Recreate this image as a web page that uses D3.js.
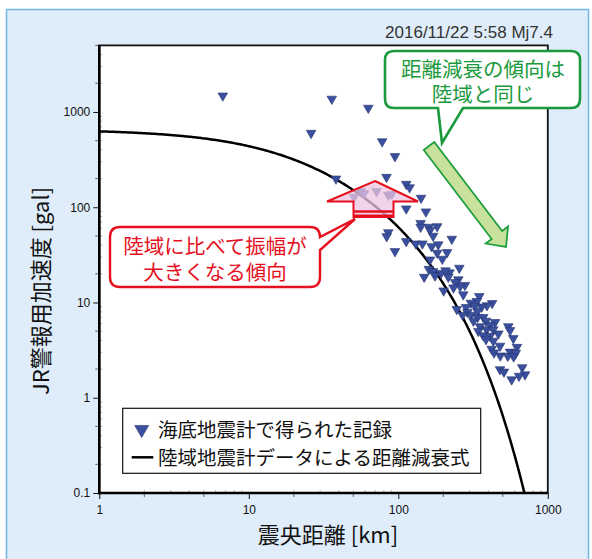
<!DOCTYPE html>
<html>
<head>
<meta charset="utf-8">
<script src="https://cdn.jsdelivr.net/npm/d3@7"></script>
<style>
  body { margin: 0; background: #ffffff; }
  text { font-family: "Noto Sans CJK JP", "Noto Sans", sans-serif; }
  .num { font-family: "Liberation Sans", Arial, sans-serif; }
  .note { font-family: "Liberation Sans", "Noto Sans CJK JP", sans-serif; }
</style>
</head>
<body>
<svg id="chart" width="592" height="559"></svg>
<script>
// Ocean-bottom seismometer records: epicentral distance [km] and JR alarm acceleration [gal]
const seaDistKm = [
  6.7, 35.9, 63, 26.1, 78, 95, 38.3, 83.4, 113, 119,
  50.5, 56.3, 59, 71.5, 85.7, 90.3,
  142, 113, 153, 141, 141, 160, 182, 163, 171, 228,
  85.7, 83.6, 113, 131, 145, 167, 185, 95, 182, 212,
  197, 163, 256, 160, 171, 193, 220, 207, 149, 176,
  216, 252, 240, 279, 259, 234, 201, 272, 348, 335,
  306, 424, 392, 361, 326, 284, 246, 290, 339, 306,
  269, 339, 370, 318, 386, 444, 411, 352, 390, 432,
  544, 559, 343, 467, 370, 411, 588, 432, 386, 622,
  479, 421, 437, 481, 559, 611, 540, 591, 479, 509,
  674, 704, 642, 573
];
const seaAccGal = [
  1480, 1370, 1100, 600, 490, 342, 199, 207, 175, 161,
  128, 147, 139, 147, 134, 137,
  125, 96.6, 89.8, 68, 62, 62, 62.9, 57.4, 49.9, 46.4,
  54.4, 49.4, 43.8, 41.4, 41.4, 38.8, 40.5, 34.4, 33.1, 33.6,
  28.6, 28.1, 23, 22.4, 21.2, 20.3, 20.6, 21.6, 18.5, 19.1,
  18.5, 17.4, 16.3, 15.2, 14.8, 14.3, 13.3, 12.1, 11.6, 10.3,
  9.9, 9.8, 9.3, 9.0, 9.2, 8.9, 8.5, 7.9, 8.1, 7.4,
  7.4, 7.0, 7.0, 6.4, 6.4, 6.2, 5.8, 5.6, 5.2, 5.2,
  5.6, 5.1, 5.0, 4.7, 4.5, 4.45, 4.2, 3.95, 4.1, 3.4,
  3.5, 3.25, 2.97, 2.76, 3.03, 2.95, 2.74, 2.70, 1.98, 1.87,
  2.08, 1.75, 1.69, 1.55
];

// Land-based attenuation relation: log10 A = a - log10(X + c) - k X
const attenuationCoef = [4.231, 26, 0.0034];

const xTicks = [1, 10, 100, 1000];
const yTicks = [0.1, 1, 10, 100, 1000];
const xTickLabels = ["1", "10", "100", "1000"];
const yTickLabels = ["0.1", "1", "10", "100", "1000"];

const titleText = "2016/11/22 5:58 Mj7.4";
const xLabel = "震央距離 [km]";
const yLabel = "JR警報用加速度 [gal]";
const legendLabels = ["海底地震計で得られた記録", "陸域地震計データによる距離減衰式"];
const noteGreen = ["距離減衰の傾向は", "陸域と同じ"];
const noteRed = ["陸域に比べて振幅が", "大きくなる傾向"];

const svg = d3.select("#chart");

// panel background
svg.append("rect")
  .attr("x", 6.5).attr("y", 9.5).attr("width", 582).attr("height", 560)
  .attr("fill", "#dfecf9").attr("stroke", "#72b6e6").attr("stroke-width", 1.5);

const plot = { left: 99.3, right: 547.8, top: 45.4, bottom: 493 };

const x = d3.scaleLog().domain([1, 1000]).range([plot.left, plot.right]);
const y = d3.scaleLog().domain([0.1, 5000]).range([plot.bottom, plot.top]);

// plot area
svg.append("rect")
  .attr("x", plot.left).attr("y", plot.top)
  .attr("width", plot.right - plot.left).attr("height", plot.bottom - plot.top)
  .attr("fill", "#ffffff");

svg.append("defs").append("clipPath").attr("id", "plotClip")
  .append("rect")
  .attr("x", plot.left).attr("y", plot.top)
  .attr("width", plot.right - plot.left).attr("height", plot.bottom - plot.top);

// minor ticks
const minorY = [];
for (let e = -1; e <= 3; e++) for (let m = 2; m <= 9; m++) {
  const v = m * Math.pow(10, e);
  if (v <= 5000) minorY.push(v);
}
const minorX = [];
for (let e = 0; e <= 2; e++) for (let m = 2; m <= 9; m++) minorX.push(m * Math.pow(10, e));

const tickG = svg.append("g");
// inner light ticks
tickG.selectAll(".yin").data(minorY).join("line")
  .attr("x1", plot.left).attr("x2", plot.left + 3)
  .attr("y1", d => y(d)).attr("y2", d => y(d))
  .attr("stroke", "#aaaaaa").attr("stroke-width", 0.8);
tickG.selectAll(".xin").data(minorX).join("line")
  .attr("x1", d => x(d)).attr("x2", d => x(d))
  .attr("y1", plot.bottom).attr("y2", plot.bottom - 3)
  .attr("stroke", "#aaaaaa").attr("stroke-width", 0.8);
// outer ticks at 2 and 5
const isMid = d => { const m = Math.round(d / Math.pow(10, Math.floor(Math.log10(d) + 1e-9))); return m === 2 || m === 5; };
tickG.selectAll(".yout").data(minorY.filter(isMid)).join("line")
  .attr("x1", plot.left).attr("x2", plot.left - 4)
  .attr("y1", d => y(d)).attr("y2", d => y(d))
  .attr("stroke", "#555").attr("stroke-width", 0.9);
tickG.selectAll(".xout").data(minorX.filter(isMid)).join("line")
  .attr("x1", d => x(d)).attr("x2", d => x(d))
  .attr("y1", plot.bottom).attr("y2", plot.bottom + 4)
  .attr("stroke", "#555").attr("stroke-width", 0.9);

// major ticks + labels via d3 axes
const yAxis = d3.axisLeft(y).tickValues(yTicks).tickSize(6).tickPadding(3)
  .tickFormat((d, i) => yTickLabels[i]);
const xAxis = d3.axisBottom(x).tickValues(xTicks).tickSize(6).tickPadding(6)
  .tickFormat((d, i) => xTickLabels[i]);

const gy = svg.append("g").attr("transform", `translate(${plot.left},0)`).call(yAxis);
const gx = svg.append("g").attr("transform", `translate(0,${plot.bottom})`).call(xAxis);
[gy, gx].forEach(g => {
  g.select(".domain").remove();
  g.selectAll("line").attr("stroke", "#111").attr("stroke-width", 1);
  g.selectAll("text").attr("class", "num").attr("fill", "#111")
    .style("font-size", "12px").style("font-family", "'Liberation Sans', Arial, sans-serif");
});

// attenuation curve
const [ca, cc, ck] = attenuationCoef;
const curvePts = d3.range(0, 3.0001, 0.01).map(t => {
  const X = Math.pow(10, t);
  return [X, Math.pow(10, ca - Math.log10(X + cc) - ck * X)];
});
svg.append("path")
  .attr("clip-path", "url(#plotClip)")
  .attr("d", d3.line().x(d => x(d[0])).y(d => y(Math.max(d[1], 0.05)))(curvePts))
  .attr("fill", "none").attr("stroke", "#000").attr("stroke-width", 2.5);

// ocean-bottom records
const tri = d3.symbol(d3.symbolTriangle, 40);
svg.append("g").attr("clip-path", "url(#plotClip)")
  .selectAll("path").data(seaDistKm.map((d, i) => [d, seaAccGal[i]])).join("path")
  .attr("d", tri)
  .attr("transform", d => `translate(${x(d[0])},${y(d[1])}) rotate(180)`)
  .attr("fill", "#3a4f9e").attr("stroke", "#26346f").attr("stroke-width", 0.6);

// frame
svg.append("rect")
  .attr("x", plot.left).attr("y", plot.top)
  .attr("width", plot.right - plot.left).attr("height", plot.bottom - plot.top)
  .attr("fill", "none").attr("stroke", "#111").attr("stroke-width", 1.8);
svg.append("line").attr("x1", plot.left).attr("x2", plot.left)
  .attr("y1", plot.top).attr("y2", plot.bottom + 1.3)
  .attr("stroke", "#000").attr("stroke-width", 2.6);
svg.append("line").attr("x1", plot.left - 1.3).attr("x2", plot.right)
  .attr("y1", plot.bottom).attr("y2", plot.bottom)
  .attr("stroke", "#000").attr("stroke-width", 2.6);

// legend
const lg = svg.append("g");
lg.append("rect").attr("x", 122.7).attr("y", 408.3).attr("width", 358).attr("height", 65)
  .attr("fill", "#fff").attr("stroke", "#111").attr("stroke-width", 1.2);
lg.append("path").attr("d", d3.symbol(d3.symbolTriangle, 85)())
  .attr("transform", "translate(141.7,429.5) rotate(180)")
  .attr("fill", "#3a4f9e").attr("stroke", "#26346f").attr("stroke-width", 0.6);
lg.append("text").attr("x", 158).attr("y", 437).text(legendLabels[0])
  .style("font-size", "19.5px").attr("fill", "#111");
lg.append("line").attr("x1", 131.7).attr("x2", 153.3).attr("y1", 457.3).attr("y2", 457.3)
  .attr("stroke", "#000").attr("stroke-width", 2.5);
lg.append("text").attr("x", 158).attr("y", 465).text(legendLabels[1])
  .style("font-size", "19.5px").attr("fill", "#111");

// axis titles
svg.append("text").attr("x", 328).attr("y", 543).attr("text-anchor", "middle")
  .style("font-size", "22px").attr("fill", "#111").text(xLabel);
svg.append("text").attr("transform", "translate(49,291) rotate(-90)").attr("text-anchor", "middle")
  .style("font-size", "22px").attr("fill", "#111").text(yLabel);

// event header
svg.append("text").attr("x", 553).attr("y", 38).attr("text-anchor", "end")
  .attr("class", "num").style("font-size", "17px")
  .style("font-family", "'Liberation Sans', Arial, sans-serif")
  .attr("fill", "#333").text(titleText);

// green block arrow (same decay trend as land)
function blockArrow(sx, sy, ex, ey, w, hl, hw) {
  const L = Math.hypot(ex - sx, ey - sy);
  const ux = (ex - sx) / L, uy = (ey - sy) / L;
  const vx = -uy, vy = ux;
  const bx = ex - ux * hl, by = ey - uy * hl;
  const p = [
    [sx + vx * w, sy + vy * w], [bx + vx * w, by + vy * w], [bx + vx * hw, by + vy * hw],
    [ex, ey],
    [bx - vx * hw, by - vy * hw], [bx - vx * w, by - vy * w], [sx - vx * w, sy - vy * w]
  ];
  return "M" + p.map(q => q.join(",")).join("L") + "Z";
}
svg.append("path").attr("d", blockArrow(429, 146, 506, 247, 6.6, 15, 14))
  .attr("fill", "#c8e29e").attr("stroke", "#1f9e3e").attr("stroke-width", 1.8)
  .attr("stroke-linejoin", "miter");

// green callout
function calloutDown(x0, y0, x1, y1, r, xl, xr, tx, ty) {
  return `M${x0 + r},${y0}H${x1 - r}Q${x1},${y0} ${x1},${y0 + r}V${y1 - r}Q${x1},${y1} ${x1 - r},${y1}` +
    `H${xr}L${tx},${ty}L${xl},${y1}H${x0 + r}Q${x0},${y1} ${x0},${y1 - r}V${y0 + r}Q${x0},${y0} ${x0 + r},${y0}Z`;
}
svg.append("path").attr("d", calloutDown(385, 51, 580, 108, 9, 438, 463, 442, 143))
  .attr("fill", "#fff").attr("stroke", "#1a9a3c").attr("stroke-width", 2.6);
const gText = svg.append("text").attr("class", "note").attr("text-anchor", "middle")
  .style("font-size", "20.5px").attr("fill", "#1a9a3c");
noteGreen.forEach((t, i) => {
  gText.append("tspan").attr("x", 483).attr("y", 77 + i * 25).text(t);
});

// pink up arrow (larger amplitude)
const pinkPts = [[375, 181], [418, 201.5], [393.5, 201.5], [393.5, 217], [353.5, 217], [353.5, 201.5], [327, 201.5]];
svg.append("path").attr("d", "M" + pinkPts.map(q => q.join(",")).join("L") + "Z")
  .attr("fill", "#ecc6e2").attr("fill-opacity", 0.75)
  .attr("stroke", "#e60f1e").attr("stroke-width", 2).attr("stroke-linejoin", "miter");
svg.append("line").attr("x1", 353.5).attr("x2", 393.5).attr("y1", 211.5).attr("y2", 211.5)
  .attr("stroke", "#e60f1e").attr("stroke-width", 2.4);
svg.append("line").attr("x1", 353.5).attr("x2", 393.5).attr("y1", 216).attr("y2", 216)
  .attr("stroke", "#e60f1e").attr("stroke-width", 3);

// red callout
function calloutRight(x0, y0, x1, y1, r, ya, yb, tx, ty) {
  return `M${x0 + r},${y0}H${x1 - r}Q${x1},${y0} ${x1},${y0 + r}V${ya}L${tx},${ty}L${x1},${yb}` +
    `V${y1 - r}Q${x1},${y1} ${x1 - r},${y1}H${x0 + r}Q${x0},${y1} ${x0},${y1 - r}V${y0 + r}Q${x0},${y0} ${x0 + r},${y0}Z`;
}
svg.append("path").attr("d", calloutRight(110, 227, 320, 287, 10, 237, 250, 355, 219))
  .attr("fill", "#fff").attr("stroke", "#e60f1e").attr("stroke-width", 2.4);
const rText = svg.append("text").attr("class", "note").attr("text-anchor", "middle")
  .style("font-size", "20.5px").attr("fill", "#e60f1e");
noteRed.forEach((t, i) => {
  rText.append("tspan").attr("x", 215).attr("y", 254 + i * 25.5).text(t);
});
</script>
</body>
</html>
